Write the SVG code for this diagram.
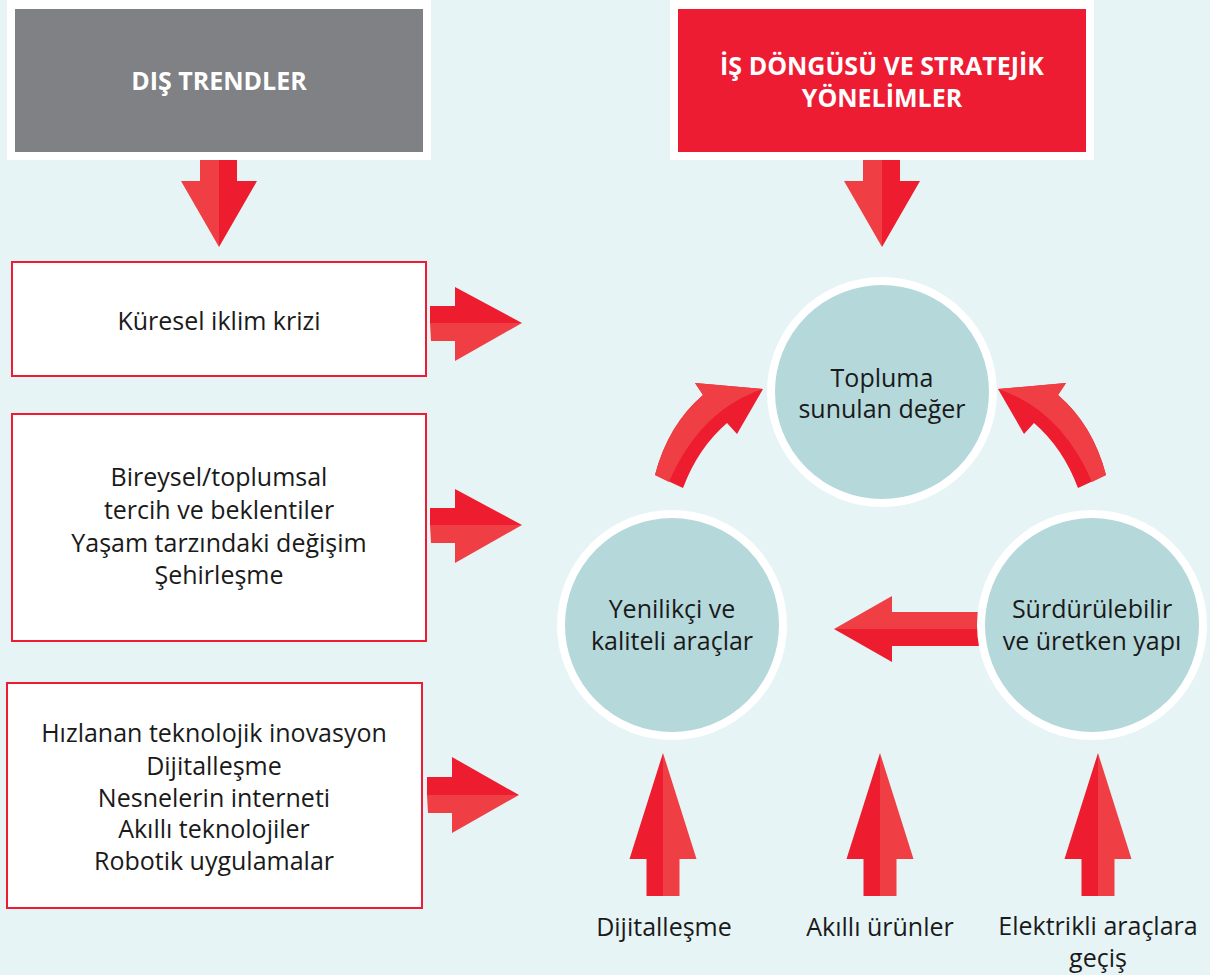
<svg xmlns="http://www.w3.org/2000/svg" width="1210" height="975" viewBox="0 0 1210 975">
<style>
.t{font-family:"Open Sans","Noto Sans","Liberation Sans",sans-serif;font-size:25px;fill:#1a1a1a;text-anchor:middle}
.h{font-family:"Open Sans","Noto Sans","Liberation Sans",sans-serif;font-size:25px;font-weight:bold;fill:#ffffff;text-anchor:middle}
.box{fill:#ffffff;stroke:#ed1c32;stroke-width:2}
.circ{fill:#b5d8db;stroke:#ffffff;stroke-width:8}
.dk{fill:#ed1c2e}
.lt{fill:#ef3f44}
</style>
<rect x="0" y="0" width="1210" height="975" fill="#e6f4f6"/>
<g id="connectors">
  <polygon class="lt" points="219,247 181,181 200,181 200,160 219,160"/>
  <polygon class="dk" points="219,247 257,181 237,181 237,160 219,160"/>
  <polygon class="lt" points="882,247 844,181 863,181 863,160 882,160"/>
  <polygon class="dk" points="882,247 920,181 900,181 900,160 882,160"/>
  <polygon class="dk" points="522,323 455,287 455,306 430,306 430,323"/>
  <polygon class="lt" points="522,323 455,361 455,341 431,341 430,323"/>
  <polygon class="dk" points="522,525 455,489 455,508 430,508 430,525"/>
  <polygon class="lt" points="522,525 455,563 455,543 431,543 430,525"/>
  <polygon class="dk" points="519,795 452,757 452,777 427,777 427,795"/>
  <polygon class="lt" points="519,795 452,833 452,813 428,813 427,795"/>
  <path class="dk" d="M655,475 Q668,425 703,395 L695,383 L763,389 L737,434 L727,423 Q698,448 683,488 Z"/>
  <path class="lt" d="M655,475 Q668,425 703,395 L695,383 L763,389 Q700,410 669,482 Z"/>
  <path class="dk" d="M1106,475 Q1093,425 1058,395 L1066,383 L998,389 L1024,434 L1034,423 Q1063,448 1078,488 Z"/>
  <path class="lt" d="M1106,475 Q1093,425 1058,395 L1066,383 L998,389 Q1061,410 1092,482 Z"/>
  <polygon class="lt" points="834,629 892,596 892,612 985,612 985,629"/>
  <polygon class="dk" points="834,629 892,662 892,646 985,646 985,629"/>
  <polygon class="dk" points="663,753 629.5,859 646.5,859 646.5,896 663,896"/>
  <polygon class="lt" points="663,753 696.5,859 679.5,859 679.5,896 663,896"/>
  <polygon class="dk" points="880,753 846.5,859 863.5,859 863.5,896 880,896"/>
  <polygon class="lt" points="880,753 913.5,859 896.5,859 896.5,896 880,896"/>
  <polygon class="dk" points="1098,753 1064.5,859 1081.5,859 1081.5,896 1098,896"/>
  <polygon class="lt" points="1098,753 1131.5,859 1114.5,859 1114.5,896 1098,896"/>
</g>
<g id="header-dis">
  <rect x="7" y="0" width="424" height="160" fill="#ffffff"/>
  <rect x="15" y="9" width="408" height="143" fill="#808184"/>
  <text class="h" x="219" y="90">DIŞ TRENDLER</text>
</g>
<g id="header-is">
  <rect x="670" y="0" width="424" height="160" fill="#ffffff"/>
  <rect x="678" y="9" width="408" height="143" fill="#ed1c32"/>
  <text class="h" x="882" y="75">İŞ DÖNGÜSÜ VE STRATEJİK</text>
  <text class="h" x="882" y="107">YÖNELİMLER</text>
</g>
<g id="box-iklim">
  <rect class="box" x="12" y="262" width="414" height="114"/>
  <text class="t" x="219" y="330">Küresel iklim krizi</text>
</g>
<g id="box-bireysel">
  <rect class="box" x="12" y="414" width="414" height="227"/>
  <text class="t" x="219" y="486">Bireysel/toplumsal</text>
  <text class="t" x="219" y="519">tercih ve beklentiler</text>
  <text class="t" x="219" y="552">Yaşam tarzındaki değişim</text>
  <text class="t" x="219" y="584">Şehirleşme</text>
</g>
<g id="box-teknoloji">
  <rect class="box" x="7" y="683" width="415" height="225"/>
  <text class="t" x="214" y="742">Hızlanan teknolojik inovasyon</text>
  <text class="t" x="214" y="775">Dijitalleşme</text>
  <text class="t" x="214" y="807">Nesnelerin interneti</text>
  <text class="t" x="214" y="838">Akıllı teknolojiler</text>
  <text class="t" x="214" y="870">Robotik uygulamalar</text>
</g>
<g id="circle-topluma">
  <circle class="circ" cx="882" cy="392" r="111"/>
  <text class="t" x="882" y="387">Topluma</text>
  <text class="t" x="882" y="418">sunulan değer</text>
</g>
<g id="circle-yenilikci">
  <circle class="circ" cx="672" cy="625" r="111"/>
  <text class="t" x="672" y="618">Yenilikçi ve</text>
  <text class="t" x="672" y="650">kaliteli araçlar</text>
</g>
<g id="circle-surdurulebilir">
  <circle class="circ" cx="1092" cy="625" r="111"/>
  <text class="t" x="1092" y="618">Sürdürülebilir</text>
  <text class="t" x="1092" y="650">ve üretken yapı</text>
</g>
<g id="label-dijital">
  <text class="t" x="664" y="936">Dijitalleşme</text>
</g>
<g id="label-akilli">
  <text class="t" x="880" y="936">Akıllı ürünler</text>
</g>
<g id="label-elektrikli">
  <text class="t" x="1098" y="935">Elektrikli araçlara</text>
  <text class="t" x="1098" y="967">geçiş</text>
</g>
</svg>
